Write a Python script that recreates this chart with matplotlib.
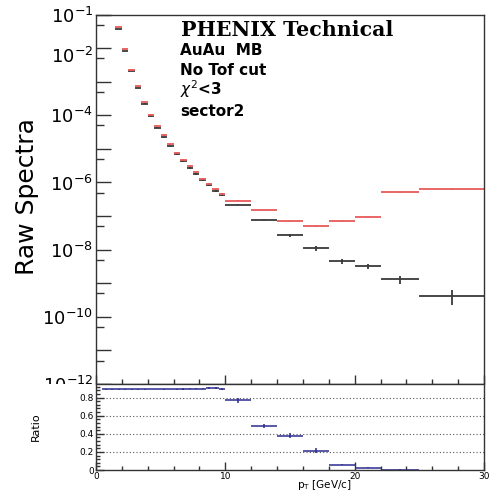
import numpy as np
import matplotlib.pyplot as plt
from matplotlib.patches import Rectangle
from matplotlib.ticker import LogLocator, FixedLocator, FuncFormatter, MultipleLocator, NullFormatter

# spectra bins (GeV/c)
spec_lo = [1.5, 2.0, 2.5, 3.0, 3.5, 4.0, 4.5, 5.0, 5.5, 6.0, 6.5, 7.0, 7.5, 8.0, 8.5, 9.0, 9.5,
           10, 12, 14, 16, 18, 20, 22, 25]
spec_hi = [2.0, 2.5, 3.0, 3.5, 4.0, 4.5, 5.0, 5.5, 6.0, 6.5, 7.0, 7.5, 8.0, 8.5, 9.0, 9.5, 10.0,
           12, 14, 16, 18, 20, 22, 25, 30]

# no tof cut (red)
red_vals = [4.2e-2, 9.1e-3, 2.3e-3, 7.2e-4, 2.5e-4, 1.05e-4, 4.8e-5, 2.5e-5, 1.35e-5, 7.7e-6,
            4.8e-6, 3.0e-6, 2.0e-6, 1.3e-6, 9.2e-7, 6.3e-7, 4.6e-7,
            2.9e-7, 1.5e-7, 6.9e-8, 5.0e-8, 7.2e-8, 9.5e-8, 5.1e-7, 6.3e-7]
red_errs = [2e-4, 5e-5, 1.5e-5, 5e-6, 2e-6, 1e-6, 5e-7, 3e-7, 2e-7, 1.2e-7,
            8e-8, 6e-8, 4e-8, 3e-8, 2.5e-8, 2e-8, 1.5e-8,
            8e-9, 4e-9, 2e-9, 1.5e-9, 2e-9, 3e-9, 1.5e-8, 2e-8]

# with cut (black)
blk_vals = [3.7e-2, 8.1e-3, 2.05e-3, 6.4e-4, 2.2e-4, 9.3e-5, 4.3e-5, 2.2e-5, 1.2e-5, 6.9e-6,
            4.3e-6, 2.7e-6, 1.8e-6, 1.17e-6, 8.3e-7, 5.7e-7, 4.1e-7,
            2.2e-7, 7.4e-8, 2.7e-8, 1.1e-8, 4.6e-9, 3.2e-9, 1.3e-9, 4.3e-10]
blk_errs = [4e-4, 1e-4, 3e-5, 1.2e-5, 5e-6, 2.5e-6, 1.3e-6, 8e-7, 5e-7, 3e-7,
            2.2e-7, 1.4e-7, 1e-7, 7e-8, 5e-8, 3.5e-8, 2.5e-8,
            7e-9, 4e-9, 3.2e-9, 1.7e-9, 8e-10, 5.5e-10, 3.8e-10, 2.1e-10]

# ratio panel
ratio_lo = [0.5, 1.0, 1.5, 2.0, 2.5, 3.0, 3.5, 4.0, 4.5, 5.0, 5.5, 6.0, 6.5, 7.0, 7.5, 8.0, 8.5, 9.0, 9.5,
            10, 12, 14, 16, 18, 20, 22]
ratio_hi = [1.0, 1.5, 2.0, 2.5, 3.0, 3.5, 4.0, 4.5, 5.0, 5.5, 6.0, 6.5, 7.0, 7.5, 8.0, 8.5, 9.0, 9.5, 10.0,
            12, 14, 16, 18, 20, 22, 25]
ratio_vals = [0.89, 0.89, 0.89, 0.89, 0.89, 0.89, 0.89, 0.895, 0.895, 0.89, 0.895, 0.89, 0.895,
              0.90, 0.90, 0.90, 0.905, 0.91, 0.895,
              0.77, 0.485, 0.38, 0.215, 0.06, 0.025, 0.004]
ratio_errs = [0.002, 0.002, 0.002, 0.002, 0.002, 0.002, 0.002, 0.004, 0.004, 0.005, 0.005, 0.006, 0.006,
              0.007, 0.008, 0.008, 0.009, 0.01, 0.01,
              0.025, 0.025, 0.028, 0.025, 0.01, 0.008, 0.003]

labelled_exp = [-1, -4, -6, -8, -10, -12]

W, H = 491, 493
fig = plt.figure(figsize=(W / 100, H / 100), dpi=100)

def px_box(left, top, right, bottom):
    return [left / W, 1 - bottom / H, (right - left) / W, (bottom - top) / H]

ax = fig.add_axes(px_box(96, 14.5, 484, 384))
axr = fig.add_axes(px_box(96, 384, 484, 470))
axr.set_zorder(3)
axr.set_facecolor('white')
# lower pad hides the part of the spectra labels that falls below it
fig.patches.append(Rectangle((0, 0), 1, 1 - 384 / H, transform=fig.transFigure,
                             facecolor='white', edgecolor='none', zorder=1))

frame_col = '#333333'

def draw_hist(a, lo, hi, vals, errs, color, lw=1.3):
    lo = np.array(lo, dtype=float)
    hi = np.array(hi, dtype=float)
    a.errorbar((lo + hi) / 2, vals, xerr=(hi - lo) / 2, yerr=errs, fmt='none',
               ecolor=color, elinewidth=lw, capsize=0)

draw_hist(ax, spec_lo, spec_hi, blk_vals, blk_errs, '#3a3a3a')
draw_hist(ax, spec_lo, spec_hi, red_vals, red_errs, '#e85a5a')

ax.set_yscale('log')
ax.set_xlim(0, 30)
ax.set_ylim(1e-12, 1e-1)
ax.yaxis.set_major_locator(LogLocator(base=10, numticks=30))
ax.yaxis.set_major_formatter(FuncFormatter(
    lambda v, p: r'$10^{%d}$' % round(np.log10(v)) if round(np.log10(v)) in labelled_exp else ''))
ax.yaxis.set_minor_locator(FixedLocator([5 * 10.0 ** n for n in range(-13, -1)]))
ax.yaxis.set_minor_formatter(NullFormatter())
ax.xaxis.set_major_locator(MultipleLocator(10))
ax.xaxis.set_minor_locator(MultipleLocator(2))
ax.tick_params(axis='y', which='major', direction='in', length=11, width=1, color=frame_col,
               labelsize=13, pad=2)
ax.tick_params(axis='y', which='minor', direction='in', length=5.5, width=1, color=frame_col)
ax.tick_params(axis='x', which='major', direction='in', length=6.5, width=1, color=frame_col,
               labelbottom=False)
ax.tick_params(axis='x', which='minor', direction='in', length=3.5, width=1, color=frame_col)
for s in ax.spines.values():
    s.set_color(frame_col)
    s.set_linewidth(1)
# the 10^-2 label sits a bit below its tick, pushed down by the 10^-1 label
ax.annotate(r'$10^{-2}$', xy=(0, 1e-2), xycoords=('axes fraction', 'data'),
            xytext=(-2, -6.5), textcoords='offset points', ha='right', va='center',
            fontsize=13, annotation_clip=False)

# ratio panel
for g in [0.2, 0.4, 0.6, 0.8]:
    axr.axhline(g, color='#555555', lw=0.8, ls=(0, (1, 2)), zorder=0)
draw_hist(axr, ratio_lo, ratio_hi, ratio_vals, ratio_errs, '#2b2b8f', lw=1.1)
axr.set_xlim(0, 30)
axr.set_ylim(0, 0.95)
axr.xaxis.set_major_locator(MultipleLocator(10))
axr.xaxis.set_minor_locator(MultipleLocator(2))
axr.yaxis.set_major_locator(MultipleLocator(0.2))
axr.yaxis.set_minor_locator(MultipleLocator(0.04))
axr.yaxis.set_major_formatter(FuncFormatter(lambda v, p: '0' if abs(v) < 1e-9 else '%.1f' % v))
axr.tick_params(axis='both', which='major', direction='in', length=5.5, width=1, color=frame_col,
                labelsize=6.5, pad=1.5)
axr.tick_params(axis='both', which='minor', direction='in', length=3, width=1, color=frame_col)
for s in axr.spines.values():
    s.set_color(frame_col)
    s.set_linewidth(1)

# labels
fig.text(27 / W, 1 - 197 / H, 'Raw Spectra', rotation=90, ha='center', va='center', fontsize=18)
fig.text(36 / W, 1 - 427 / H, 'Ratio', rotation=90, ha='center', va='center', fontsize=8)
fig.text(352 / W, 1 - 488 / H, r'p$_{\mathrm{T}}$ [GeV/c]', ha='right', va='baseline', fontsize=7.5)

fig.text(181 / W, 1 - 36 / H, 'PHENIX Technical', family='DejaVu Serif', weight='bold',
         fontsize=14.8, va='baseline')
fig.text(180 / W, 1 - 55 / H, 'AuAu  MB', weight='bold', fontsize=11, va='baseline')
fig.text(180 / W, 1 - 75 / H, 'No Tof cut', weight='bold', fontsize=11, va='baseline')
fig.text(180 / W, 1 - 95 / H, r'$\chi^{2}$<3', weight='bold', fontsize=11, va='baseline')
fig.text(180 / W, 1 - 116 / H, 'sector2', weight='bold', fontsize=11, va='baseline')

fig.savefig('out.png', dpi=100)
